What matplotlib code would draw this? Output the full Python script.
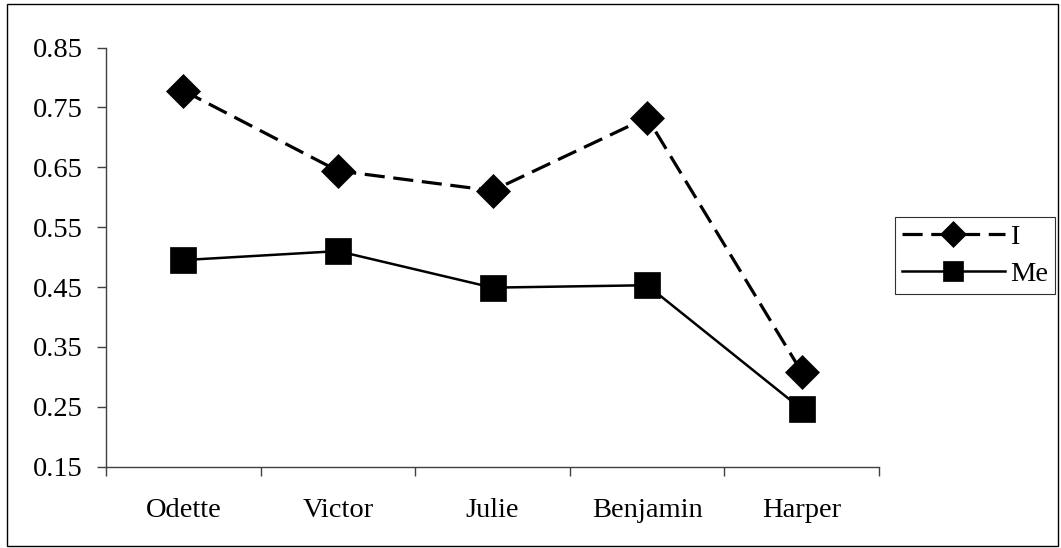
import matplotlib
matplotlib.use("Agg")
import matplotlib.pyplot as plt
from matplotlib.patches import Rectangle
import numpy as np

names = ["Odette", "Victor", "Julie", "Benjamin", "Harper"]
i_vals = [0.778, 0.644, 0.611, 0.733, 0.308]
me_vals = [0.495, 0.510, 0.449, 0.453, 0.246]
y_ticks = [0.15, 0.25, 0.35, 0.45, 0.55, 0.65, 0.75, 0.85]

plt.rcParams["font.family"] = ["Liberation Serif", "DejaVu Serif"]
fs = 20.5

fig = plt.figure(figsize=(10.61, 5.48), dpi=100)
ax = fig.add_axes([0.0999, 0.1484, 0.7286, 0.7649])

x = np.arange(len(names)) + 0.5
ax.plot(x, i_vals, color="black", lw=2.3, dashes=(6.3, 2.7),
        marker="D", ms=17, mfc="black", mec="black", mew=0.5, label="I")
ax.plot(x, me_vals, color="black", lw=1.8,
        marker="s", ms=18.5, mfc="black", mec="black", mew=0.5, label="Me")

ax.set_xlim(0, len(names))
ax.set_ylim(0.15, 0.85)
ax.set_yticks(y_ticks)
ax.set_yticklabels(["%.2f" % v for v in y_ticks])
ax.set_xticks(x)
ax.set_xticklabels(names)
ax.set_xticks(np.arange(len(names) + 1), minor=True)

axis_color = "#404040"
for side in ["top", "right"]:
    ax.spines[side].set_visible(False)
for side in ["left", "bottom"]:
    ax.spines[side].set_color(axis_color)
    ax.spines[side].set_linewidth(1.0)

ax.tick_params(axis="y", direction="out", length=6.5, width=1.0, color=axis_color,
               labelsize=fs, pad=10.5)
ax.tick_params(axis="x", which="major", length=0, labelsize=fs, pad=22.5)
ax.tick_params(axis="x", which="minor", direction="out", length=6.5, width=1.0,
               color=axis_color)

leg = fig.legend(loc="upper left", bbox_to_anchor=(895 / 1061, 1 - 217 / 548),
                 fontsize=fs, handlelength=3.6, handletextpad=0.2,
                 borderpad=0.25, labelspacing=0.4, borderaxespad=0,
                 markerscale=0.8, fancybox=False, framealpha=1)
leg.get_frame().set_edgecolor("#303030")
leg.get_frame().set_linewidth(0.8)

# outer chart border
fig.patches.append(Rectangle((7 / 1061, 2 / 548), 1051 / 1061, 542 / 548,
                             transform=fig.transFigure, fill=False,
                             edgecolor="black", lw=1.0))

fig.savefig("out.png", dpi=100)
